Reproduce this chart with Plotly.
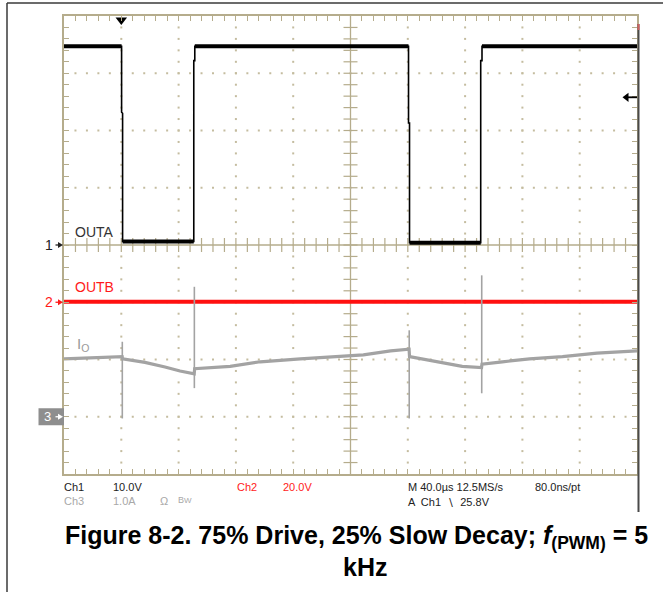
import plotly.graph_objects as go

# ---------------- data ----------------
# time in microseconds (M 40.0 us/div, 10 divisions)
TIME_PER_DIV = 40.0
N_XDIV, N_YDIV = 10, 8

# channel settings: scale per division and ground-marker position (divisions from bottom)
ch_names = ["1", "2", "3"]
ch_scales = [10.0, 20.0, 1.0]        # V/div, V/div, A/div
ch_offsets = [4.0, 3.0, 1.0]         # divisions
ch_colors = ["#222222", "#ff1a1a", "#ffffff"]
trigger_time = 40.0                  # us
trigger_level = 25.8                 # V on Ch1

# OUTA (Ch1) in volts
outa_t = [0, 40.2, 40.2, 40.9, 40.9, 90.6, 90.6, 91.3, 91.3,
          240.5, 240.5, 241.2, 241.2, 290.9, 290.9, 291.8, 291.8, 400]
outa_v = [34.7, 34.7, 23.2, 23.0, 0.6, 0.6, 32.2, 32.2, 34.7,
          34.7, 21.3, 21.3, 0.4, 0.4, 32.2, 32.2, 34.7, 34.7]

# OUTB (Ch2) in volts
outb_t = [0, 400]
outb_v = [0.2, 0.2]

# IO (Ch3) in amperes, baseline
io_t = [0, 20, 40.6, 40.9, 56.5, 70.5, 81, 90.9, 91.2, 116, 137, 165, 186,
        209, 228, 240.9, 241.2, 255, 269, 278, 291.5, 291.8, 306, 325, 348, 372, 400]
io_a = [1.01, 1.03, 1.05, 1.01, 0.95, 0.87, 0.80, 0.75, 0.84, 0.88, 0.96, 1.01, 1.05,
        1.08, 1.15, 1.18, 1.05, 0.99, 0.92, 0.88, 0.86, 0.92, 0.96, 1.01, 1.05, 1.11, 1.15]
# IO switching spikes
spike_t = [40.7, 91.0, 241.0, 291.6]
spike_hi = [1.31, 2.27, 1.51, 2.47]
spike_lo = [-0.03, 0.50, -0.03, 0.41]

# ---------------- helpers ----------------
W, H = 663, 592
L, R, T, B = 64, 26, 16, 118
PW, PH = W - L - R, H - T - B
XMAX = N_XDIV * TIME_PER_DIV
DIV_PX = PH / N_YDIV


def pxx(px):
    return (px - L) / PW


def pxy(py):
    return (H - B - py) / PH


def px_to_t(px):
    return (px - L) / PW * XMAX


def to_div(values, ch):
    return [ch_offsets[ch] + v / ch_scales[ch] for v in values]


TAN = "#b5ac8c"
DOT = "#c4bc9f"
FONT = "Liberation Sans"

fig = go.Figure()

# ---------------- graticule ----------------
dx, dy = [], []
for k in range(1, N_XDIV):
    if k == N_XDIV // 2:
        continue
    for j in range(1, N_YDIV * 5):
        dx.append(k * TIME_PER_DIV)
        dy.append(j * 0.2)
for k in range(1, N_YDIV):
    if k == N_YDIV // 2:
        continue
    for i in range(1, N_XDIV * 5):
        dx.append(i * TIME_PER_DIV / 5)
        dy.append(k)
fig.add_trace(go.Scatter(x=dx, y=dy, mode="markers", hoverinfo="skip",
                         marker=dict(symbol="square", size=2, color=DOT, line=dict(width=0))))

cx = N_XDIV / 2 * TIME_PER_DIV
cy = N_YDIV / 2
fig.add_shape(type="line", x0=cx, x1=cx, y0=0, y1=N_YDIV, line=dict(color=TAN, width=1.3), layer="below")
fig.add_shape(type="line", x0=0, x1=XMAX, y0=cy, y1=cy, line=dict(color=TAN, width=1.3), layer="below")
fig.add_trace(go.Scatter(x=[i * TIME_PER_DIV / 5 for i in range(1, N_XDIV * 5)], y=[cy] * (N_XDIV * 5 - 1),
                         mode="markers", hoverinfo="skip",
                         marker=dict(symbol="line-ns", size=10, line=dict(color=TAN, width=1.2))))
fig.add_trace(go.Scatter(x=[cx] * (N_YDIV * 5 - 1), y=[j * 0.2 for j in range(1, N_YDIV * 5)],
                         mode="markers", hoverinfo="skip",
                         marker=dict(symbol="line-ew", size=10, line=dict(color=TAN, width=1.2))))

# ---------------- waveforms ----------------
# OUTB (red)
fig.add_trace(go.Scatter(x=outb_t, y=to_div(outb_v, 1), mode="lines", hoverinfo="skip",
                         line=dict(color="#ff1010", width=4)))

# IO (gray) baseline + spikes
fig.add_trace(go.Scatter(x=io_t, y=to_div(io_a, 2), mode="lines", hoverinfo="skip",
                         line=dict(color="#a3a3a3", width=3.2)))
sx, sy = [], []
for t, hi, lo in zip(spike_t, spike_hi, spike_lo):
    sx += [t, t, None]
    sy += [ch_offsets[2] + hi / ch_scales[2], ch_offsets[2] + lo / ch_scales[2], None]
fig.add_trace(go.Scatter(x=sx, y=sy, mode="lines", hoverinfo="skip",
                         line=dict(color="#a3a3a3", width=1.6)))

# OUTA (black): thin full waveform + thick noisy levels
outa_d = to_div(outa_v, 0)
fig.add_trace(go.Scatter(x=outa_t, y=outa_d, mode="lines", hoverinfo="skip",
                         line=dict(color="#000000", width=1.6)))
lx, ly = [], []
for i in range(len(outa_t) - 1):
    if outa_v[i] == outa_v[i + 1] and outa_t[i + 1] - outa_t[i] > 2:
        lx += [outa_t[i], outa_t[i + 1], None]
        ly += [outa_d[i], outa_d[i + 1], None]
fig.add_trace(go.Scatter(x=lx, y=ly, mode="lines", hoverinfo="skip",
                         line=dict(color="#000000", width=4)))

# trigger position marker
fig.add_trace(go.Scatter(x=[trigger_time], y=[N_YDIV - 0.07], mode="markers", hoverinfo="skip",
                         cliponaxis=False,
                         marker=dict(symbol="triangle-down", size=10, color="#000000")))

# ---------------- frames ----------------
fig.add_shape(type="line", xref="paper", yref="paper", x0=pxx(7), x1=pxx(7), y0=pxy(3), y1=pxy(592),
              line=dict(color="#3a3a3a", width=1.5))
fig.add_shape(type="line", xref="paper", yref="paper", x0=pxx(7), x1=pxx(663), y0=pxy(3), y1=pxy(3),
              line=dict(color="#3a3a3a", width=1.5))
fig.add_shape(type="line", xref="paper", yref="paper", x0=pxx(638.5), x1=pxx(638.5), y0=pxy(24), y1=pxy(512),
              line=dict(color="#4a4a4a", width=2))
fig.add_shape(type="line", xref="paper", yref="paper", x0=pxx(638.5), x1=pxx(638.5), y0=pxy(24), y1=pxy(30),
              line=dict(color="#d06060", width=2))
# Ch3 marker box
fig.add_shape(type="rect", xref="paper", yref="y", x0=pxx(38.5), x1=0,
              y0=ch_offsets[2] - 8.5 / DIV_PX, y1=ch_offsets[2] + 8.5 / DIV_PX,
              fillcolor="#8e8e8e", line=dict(width=0))

# channel marker arrows (shaft + head)
for off, col in zip(ch_offsets, ch_colors):
    fig.add_shape(type="line", xref="paper", yref="y", x0=pxx(55.5), x1=pxx(59), y0=off, y1=off,
                  line=dict(color=col, width=1.3))
    h = 3.0 / DIV_PX
    fig.add_shape(type="path", xref="paper", yref="y",
                  path=f"M {pxx(58)},{off - h} L {pxx(63)},{off} L {pxx(58)},{off + h} Z",
                  fillcolor=col, line=dict(width=0))

# trigger level arrow (right edge)
trig_div = ch_offsets[0] + trigger_level / ch_scales[0]
fig.add_shape(type="line", xref="paper", yref="y", x0=pxx(627), x1=pxx(637), y0=trig_div, y1=trig_div,
              line=dict(color="#000000", width=1.8))
fig.add_trace(go.Scatter(x=[px_to_t(626.5)], y=[trig_div], mode="markers", hoverinfo="skip",
                         cliponaxis=False,
                         marker=dict(symbol="triangle-left", size=8, color="#000000", line=dict(width=0))))

# ---------------- annotations ----------------
ann = []


def text(x_px, y_px, s, color, size=11, anchor="left", **kw):
    ann.append(dict(x=pxx(x_px), y=pxy(y_px), xref="paper", yref="paper", text=s, showarrow=False,
                    xanchor=anchor, yanchor="middle", font=dict(family=FONT, size=size, color=color), **kw))


# trace labels
text(72.5, 232.5, "OUTA", "#333333", 14)
text(72.5, 287, "OUTB", "#ff1a1a", 14)
text(74.5, 344, "I<sub>O</sub>", "#9a9a9a", 15)

# channel ground marker numbers
label_x = [55, 55, 53]
for name, off, col, lxp in zip(ch_names, ch_offsets, ch_colors, label_x):
    ann.append(dict(x=pxx(lxp), y=off, xref="paper", yref="y", xanchor="right", yanchor="middle",
                    text=name, showarrow=False,
                    font=dict(family=FONT, size=14 if name != "3" else 13, color=col)))

# status readout
text(62, 487, "Ch1", "#222222")
text(110.5, 487, "10.0V", "#222222")
text(235.5, 487, "Ch2", "#ff1a1a")
text(280.5, 487, "20.0V", "#ff1a1a")
text(405.5, 487, "M 40.0\u00b5s 12.5MS/s", "#222222")
text(533, 487, "80.0ns/pt", "#222222")
text(62, 501, "Ch3", "#a8a8a8")
text(110.5, 501, "1.0A", "#a8a8a8")
text(157.5, 501, "\u03a9", "#a8a8a8")
text(175.5, 499.5, "B<span style='font-size:8px'>W</span>", "#a8a8a8", 9)
text(405.5, 502, "A  Ch1  \u2216  25.8V", "#222222")

# figure caption
ann.append(dict(x=pxx(356), y=pxy(537), xref="paper", yref="paper", xanchor="center", yanchor="middle",
                showarrow=False,
                text="<b>Figure 8-2. 75% Drive, 25% Slow Decay; <i>f</i><sub>(PWM)</sub> = 5</b>",
                font=dict(family=FONT, size=25, color="#000000")))
ann.append(dict(x=pxx(365), y=pxy(567), xref="paper", yref="paper", xanchor="center", yanchor="middle",
                showarrow=False, text="<b>kHz</b>",
                font=dict(family=FONT, size=25, color="#000000")))

axis_common = dict(showgrid=False, zeroline=False, showline=True, linecolor=TAN, linewidth=1.5,
                   mirror="ticks", ticks="inside", tickcolor=TAN, ticklen=5, tickwidth=1.2,
                   showticklabels=False, fixedrange=True)
fig.update_layout(
    width=W, height=H,
    margin=dict(l=L, r=R, t=T, b=B, pad=0),
    paper_bgcolor="#ffffff", plot_bgcolor="#ffffff",
    showlegend=False,
    xaxis=dict(range=[0, XMAX], tick0=0, dtick=TIME_PER_DIV / 5, **axis_common),
    yaxis=dict(range=[0, N_YDIV], tick0=0, dtick=0.2, **axis_common),
    annotations=ann,
)

fig.write_html("out.html", config={"displayModeBar": False},
               post_script="document.body.style.margin='0px';document.body.style.overflow='hidden';")
